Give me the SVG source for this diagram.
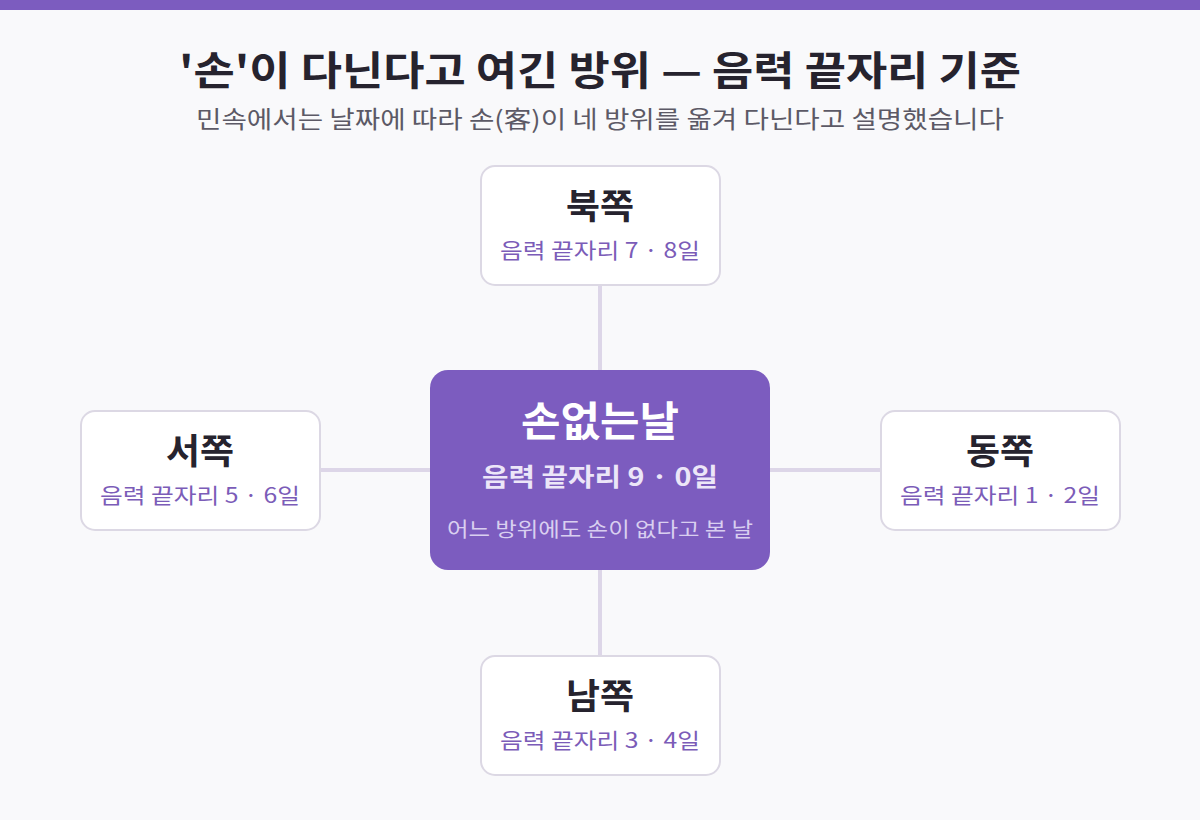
<svg xmlns="http://www.w3.org/2000/svg" width="1200" height="820" viewBox="0 0 1200 820">
<style>
text{font-family:"Noto Sans CJK KR","Noto Sans",sans-serif;text-anchor:middle}
.box{fill:#ffffff;stroke:#dcd8e4;stroke-width:2}
.h{font-size:35px;font-weight:700;fill:#26232e}
.s{font-size:21px;fill:#7b5cb8}
.ln{stroke:#ddd6e8;stroke-width:4}
</style>
<rect width="1200" height="820" fill="#f9f9fb"/>
<rect width="1200" height="10" fill="#7c5cbf"/>
<text x="600" y="85" font-size="40" font-weight="700" fill="#26232e" textLength="842" lengthAdjust="spacingAndGlyphs">'손'이 다닌다고 여긴 방위 — 음력 끝자리 기준</text>
<text x="600" y="128" font-size="24" fill="#5c5966" textLength="808" lengthAdjust="spacingAndGlyphs">민속에서는 날짜에 따라 손(客)이 네 방위를 옮겨 다닌다고 설명했습니다</text>
<g id="connectors">
<line class="ln" x1="600" y1="285" x2="600" y2="370"/>
<line class="ln" x1="600" y1="570" x2="600" y2="656"/>
<line class="ln" x1="320" y1="470" x2="430" y2="470"/>
<line class="ln" x1="770" y1="470" x2="881" y2="470"/>
</g>
<g id="center">
<rect x="430" y="370" width="340" height="200" rx="18" fill="#7c5cbf"/>
<text x="600" y="436" font-size="41" font-weight="700" fill="#ffffff" textLength="158" lengthAdjust="spacingAndGlyphs">손없는날</text>
<text x="600" y="486" font-size="25" font-weight="700" fill="#ece6f8" textLength="236" lengthAdjust="spacingAndGlyphs">음력 끝자리 9 · 0일</text>
<text x="600" y="537" font-size="20" fill="#d9cff0" textLength="306" lengthAdjust="spacingAndGlyphs">어느 방위에도 손이 없다고 본 날</text>
</g>
<g id="north">
<rect class="box" x="481" y="166" width="239" height="119" rx="14"/>
<text class="h" x="600" y="219" textLength="68" lengthAdjust="spacingAndGlyphs">북쪽</text>
<text class="s" x="600" y="258" textLength="200" lengthAdjust="spacingAndGlyphs">음력 끝자리 7 · 8일</text>
</g>
<g id="west">
<rect class="box" x="81" y="411" width="239" height="119" rx="14"/>
<text class="h" x="200" y="464" textLength="68" lengthAdjust="spacingAndGlyphs">서쪽</text>
<text class="s" x="200" y="503" textLength="200" lengthAdjust="spacingAndGlyphs">음력 끝자리 5 · 6일</text>
</g>
<g id="east">
<rect class="box" x="881" y="411" width="239" height="119" rx="14"/>
<text class="h" x="1000" y="464" textLength="68" lengthAdjust="spacingAndGlyphs">동쪽</text>
<text class="s" x="1000" y="503" textLength="200" lengthAdjust="spacingAndGlyphs">음력 끝자리 1 · 2일</text>
</g>
<g id="south">
<rect class="box" x="481" y="656" width="239" height="119" rx="14"/>
<text class="h" x="600" y="709" textLength="68" lengthAdjust="spacingAndGlyphs">남쪽</text>
<text class="s" x="600" y="748" textLength="200" lengthAdjust="spacingAndGlyphs">음력 끝자리 3 · 4일</text>
</g>
</svg>
